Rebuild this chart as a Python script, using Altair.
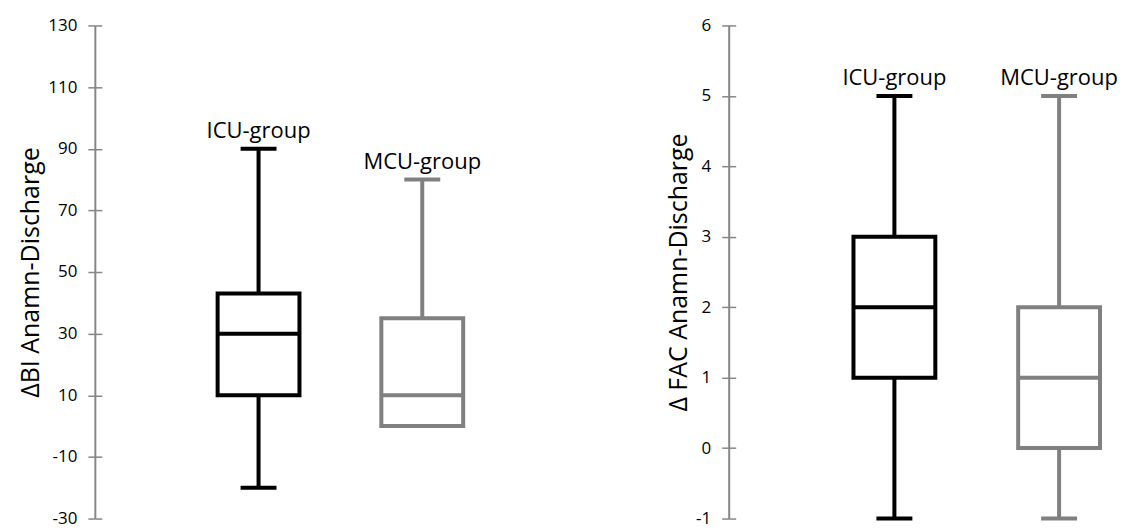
import altair as alt
import pandas as pd

groups = ["ICU-group", "MCU-group"]

bi_min = [-20, 0]
bi_q1 = [10, 0]
bi_median = [30, 10]
bi_q3 = [43, 35]
bi_max = [90, 80]

fac_min = [-1, -1]
fac_q1 = [1, 0]
fac_median = [2, 1]
fac_q3 = [3, 2]
fac_max = [5, 5]

bi_ticks = [-30, -10, 10, 30, 50, 70, 90, 110, 130]
fac_ticks = [-1, 0, 1, 2, 3, 4, 5, 6]

bi_title = "ΔBI Anamn-Discharge"
fac_title = "Δ FAC Anamn-Discharge"

colors = ["#000000", "#808080"]
FONT = "Open Sans"
AXIS_GRAY = "#868686"


def make_df(mn, q1, med, q3, mx):
    return pd.DataFrame({"group": groups, "min": mn, "q1": q1, "median": med, "q3": q3, "max": mx})


def panel(df, title, ticks, width, pad, align):
    x = alt.X("group:N", scale=alt.Scale(type="point", domain=groups, padding=pad, align=align), axis=None)
    cscale = alt.Scale(domain=groups, range=colors)
    yscale = alt.Scale(domain=[ticks[0], ticks[-1]], nice=False, zero=False)
    main_axis = alt.Axis(
        values=ticks, title=title, grid=False,
        domainColor=AXIS_GRAY, domainWidth=2,
        tickColor=AXIS_GRAY, tickWidth=1.5, tickSize=7,
        labelPadding=11, labelFontSize=17, labelColor="#000000", labelFont=FONT,
        labelExpr="'' + datum.value",
        titleFont=FONT, titleFontSize=25, titleFontWeight="normal", titleColor="#000000",
        titlePadding=4,
    )
    inner_axis = alt.Axis(
        values=ticks, title=None, grid=False, orient="left", offset=-7,
        domain=False, labels=False,
        tickColor=AXIS_GRAY, tickWidth=1.5, tickSize=7,
    )
    base = alt.Chart(df)
    whisker = base.mark_rule(strokeWidth=4, opacity=1).encode(
        x=x,
        y=alt.Y("min:Q", scale=yscale, axis=main_axis),
        y2="max:Q",
        color=alt.Color("group:N", scale=cscale, legend=None),
    )
    box = base.mark_bar(size=82, fill="white", strokeWidth=4, opacity=1).encode(
        x=x,
        y=alt.Y("q1:Q", scale=yscale, axis=inner_axis),
        y2="q3:Q",
        stroke=alt.Stroke("group:N", scale=cscale, legend=None),
    )
    median = base.mark_tick(size=82, thickness=4, opacity=1).encode(
        x=x,
        y=alt.Y("median:Q", scale=yscale, axis=None),
        color=alt.Color("group:N", scale=cscale, legend=None),
    )
    cap_lo = base.mark_tick(size=36, thickness=4, opacity=1).encode(
        x=x,
        y=alt.Y("min:Q", scale=yscale, axis=None),
        color=alt.Color("group:N", scale=cscale, legend=None),
    )
    cap_hi = base.mark_tick(size=36, thickness=4, opacity=1).encode(
        x=x,
        y=alt.Y("max:Q", scale=yscale, axis=None),
        color=alt.Color("group:N", scale=cscale, legend=None),
    )
    label = base.mark_text(dy=-11, baseline="alphabetic", fontSize=22, font=FONT, color="#000000").encode(
        x=x,
        y=alt.Y("max:Q", scale=yscale, axis=None),
        text="group:N",
    )
    return (
        alt.layer(whisker, box, median, cap_lo, cap_hi, label)
        .resolve_axis(y="independent")
        .properties(width=width, height=494)
    )


left = panel(make_df(bi_min, bi_q1, bi_median, bi_q3, bi_max), bi_title, bi_ticks, 480, 0.9634, 0.519)
right = panel(make_df(fac_min, fac_q1, fac_median, fac_q3, fac_max), fac_title, fac_ticks, 378, 0.6455, 0.7793)

chart = (
    alt.hconcat(left, right, spacing=92)
    .properties(padding={"left": 10, "top": 8, "right": 2, "bottom": 4})
    .configure_view(stroke=None)
)

chart.save("out.html", embed_options={"renderer": "svg", "actions": False})
